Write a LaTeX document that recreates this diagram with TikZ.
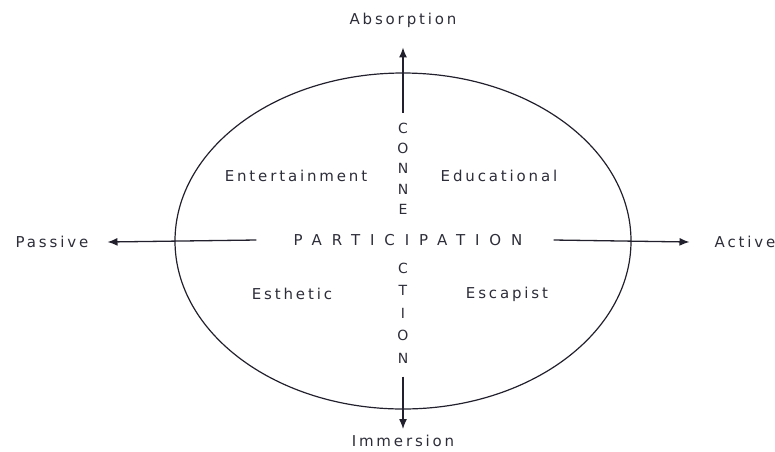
\documentclass[tikz,border=0pt]{standalone}
\usepackage{fontspec}
\setmainfont{DejaVu Sans}
\usetikzlibrary{arrows.meta, positioning}
\definecolor{ink}{RGB}{35,32,45}
\definecolor{txtgray}{RGB}{45,45,58}

\begin{document}
\begin{tikzpicture}[x=1pt, y=-1pt,
  lbl/.style={text=txtgray, inner sep=1pt, font=\fontsize{15}{17}\selectfont\addfontfeature{LetterSpace=19}},
  caps/.style={text=txtgray, inner sep=1pt, font=\fontsize{15}{17}\selectfont\addfontfeature{LetterSpace=66}},
  letter/.style={text=txtgray, inner sep=0pt, font=\fontsize{14}{16}\selectfont},
  axis/.style={ink, line width=1.3pt, -{Latex[length=10pt, width=8pt]}}]
  \useasboundingbox (0,0) rectangle (775,451);

  % the experience realm
  \draw[ink, line width=1.2pt] (403,241) ellipse [x radius=228, y radius=168];

  % end labels of the two axes
  \node[lbl] (absorption) at (403,20) {Absorption};
  \node[lbl] (immersion) at (403,441) {Immersion};
  \node[lbl] (passive) at (52,242) {Passive};
  \node[lbl] (active) at (745,242) {Active};

  % the four realms
  \node[lbl] (entertain) at (296,176) {Entertainment};
  \node[lbl] (educate) at (499,176) {Educational};
  \node[lbl] (esthetic) at (292,294) {Esthetic};
  \node[lbl] (escapist) at (507,294) {Escapist};

  % horizontal word
  \node[caps] (partic) at (408,240) {PARTICIPATION};

  % vertical word, split round the horizontal one
  \node[letter] (c1) at (403,128) {C};
  \node[letter, below=9.5pt of c1] (o1) {O};
  \node[letter, below=9.5pt of o1] (n1) {N};
  \node[letter, below=9.5pt of n1] (n2) {N};
  \node[letter, below=9.5pt of n2] (e1) {E};
  \node[letter] (c2) at (403,268) {C};
  \node[letter, below=11.8pt of c2] (t1) {T};
  \node[letter, below=11.8pt of t1] (i1) {I};
  \node[letter, below=11.8pt of i1] (o2) {O};
  \node[letter, below=11.8pt of o2] (n3) {N};

  % axes
  \draw[axis] ([yshift=10pt]c1.north) -- ([yshift=-19pt]absorption.south);
  \draw[axis] ([yshift=-13pt]n3.south) -- ([yshift=5pt]immersion.north);
  \draw[axis] ([xshift=-36pt]partic.west) -- ([xshift=18pt]passive.east);
  \draw[axis] ([xshift=30pt]partic.east) -- ([xshift=-24pt]active.west);
\end{tikzpicture}
\end{document}
